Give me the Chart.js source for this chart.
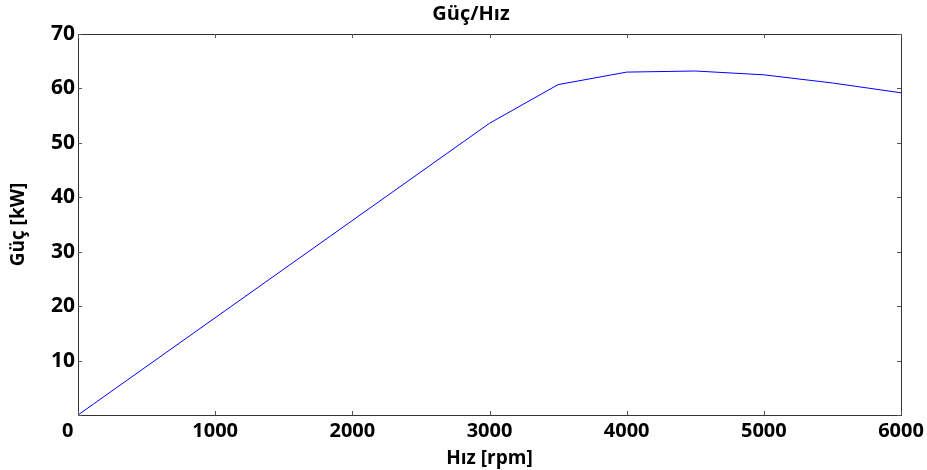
<!DOCTYPE html>
<html>
<head>
<meta charset="utf-8">
<script src="https://cdn.jsdelivr.net/npm/chart.js@4/dist/chart.umd.min.js"></script>
<style>
  html, body { margin: 0; padding: 0; background: #fff; }
  #wrap { width: 927px; height: 470px; }
</style>
</head>
<body>
<div id="wrap"><canvas id="c" width="927" height="470"></canvas></div>
<script>
// Engine power against speed
const speedRpm = [0, 3000, 3500, 4000, 4500, 5000, 5500, 6000];
const powerKw  = [0, 53.6, 60.7, 63.0, 63.2, 62.5, 61.0, 59.2];
const xTicks = [0, 1000, 2000, 3000, 4000, 5000, 6000];
const yTicks = [0, 10, 20, 30, 40, 50, 60, 70];

const FONT = "'Open Sans', 'DejaVu Sans', sans-serif";

// Box around the plot with short inward tick marks, plus the title
const frameAndTicks = {
  id: 'frameAndTicks',
  afterDraw(chart) {
    const { ctx, chartArea: a, scales: { x, y } } = chart;
    ctx.save();
    ctx.strokeStyle = '#333';
    ctx.lineWidth = 1;
    ctx.strokeRect(a.left + 0.5, a.top + 0.5, a.right - a.left, a.bottom - a.top);
    ctx.strokeStyle = '#555';
    ctx.beginPath();
    xTicks.forEach(v => {
      const px = Math.round(x.getPixelForValue(v)) + 0.5;
      ctx.moveTo(px, a.bottom); ctx.lineTo(px, a.bottom - 4);
      ctx.moveTo(px, a.top); ctx.lineTo(px, a.top + 4);
    });
    yTicks.forEach(v => {
      const py = Math.round(y.getPixelForValue(v)) + 0.5;
      ctx.moveTo(a.left, py); ctx.lineTo(a.left + 4, py);
      ctx.moveTo(a.right, py); ctx.lineTo(a.right - 4, py);
    });
    ctx.stroke();
    ctx.fillStyle = '#000';
    ctx.font = `bold 20px ${FONT}`;
    ctx.textAlign = 'center';
    ctx.textBaseline = 'middle';
    ctx.fillText('Güç/Hız', 471, 14);
    ctx.restore();
  }
};

new Chart(document.getElementById('c'), {
  type: 'scatter',
  data: {
    datasets: [{
      data: speedRpm.map((s, i) => ({ x: s, y: powerKw[i] })),
      showLine: true,
      borderColor: '#0000ff',
      borderWidth: 1,
      pointRadius: 0,
      tension: 0
    }]
  },
  options: {
    responsive: false,
    animation: false,
    layout: { padding: { top: 34, right: 26, left: 0, bottom: 0 } },
    plugins: { legend: { display: false }, tooltip: { enabled: false } },
    scales: {
      x: {
        type: 'linear',
        min: 0, max: 6000,
        afterBuildTicks(s) { s.ticks = xTicks.map(v => ({ value: v })); },
        afterFit(s) { s.height = 55; },
        grid: { display: false },
        border: { display: false },
        ticks: { color: '#000', font: { family: FONT, size: 20, weight: 'bold' }, padding: -4, maxRotation: 0,
                 callback: v => (v === 0 ? '0    ' : String(v)) },
        title: { display: true, text: 'Hız [rpm]', color: '#000', font: { family: FONT, size: 19, weight: 'bold' }, padding: { top: -6, bottom: 0 } }
      },
      y: {
        min: 0, max: 70,
        afterBuildTicks(s) { s.ticks = yTicks.map(v => ({ value: v })); },
        afterFit(s) { s.width = 78; },
        grid: { display: false },
        border: { display: false },
        ticks: { color: '#000', font: { family: FONT, size: 21, weight: 'bold' }, padding: -5,
                 callback: v => (v === 0 ? '' : String(v)) },
        title: { display: true, text: 'Güç [kW]', color: '#000', font: { family: FONT, size: 19, weight: 'bold' }, padding: { top: 7, bottom: 0 } }
      }
    }
  },
  plugins: [frameAndTicks]
});
</script>
</body>
</html>
